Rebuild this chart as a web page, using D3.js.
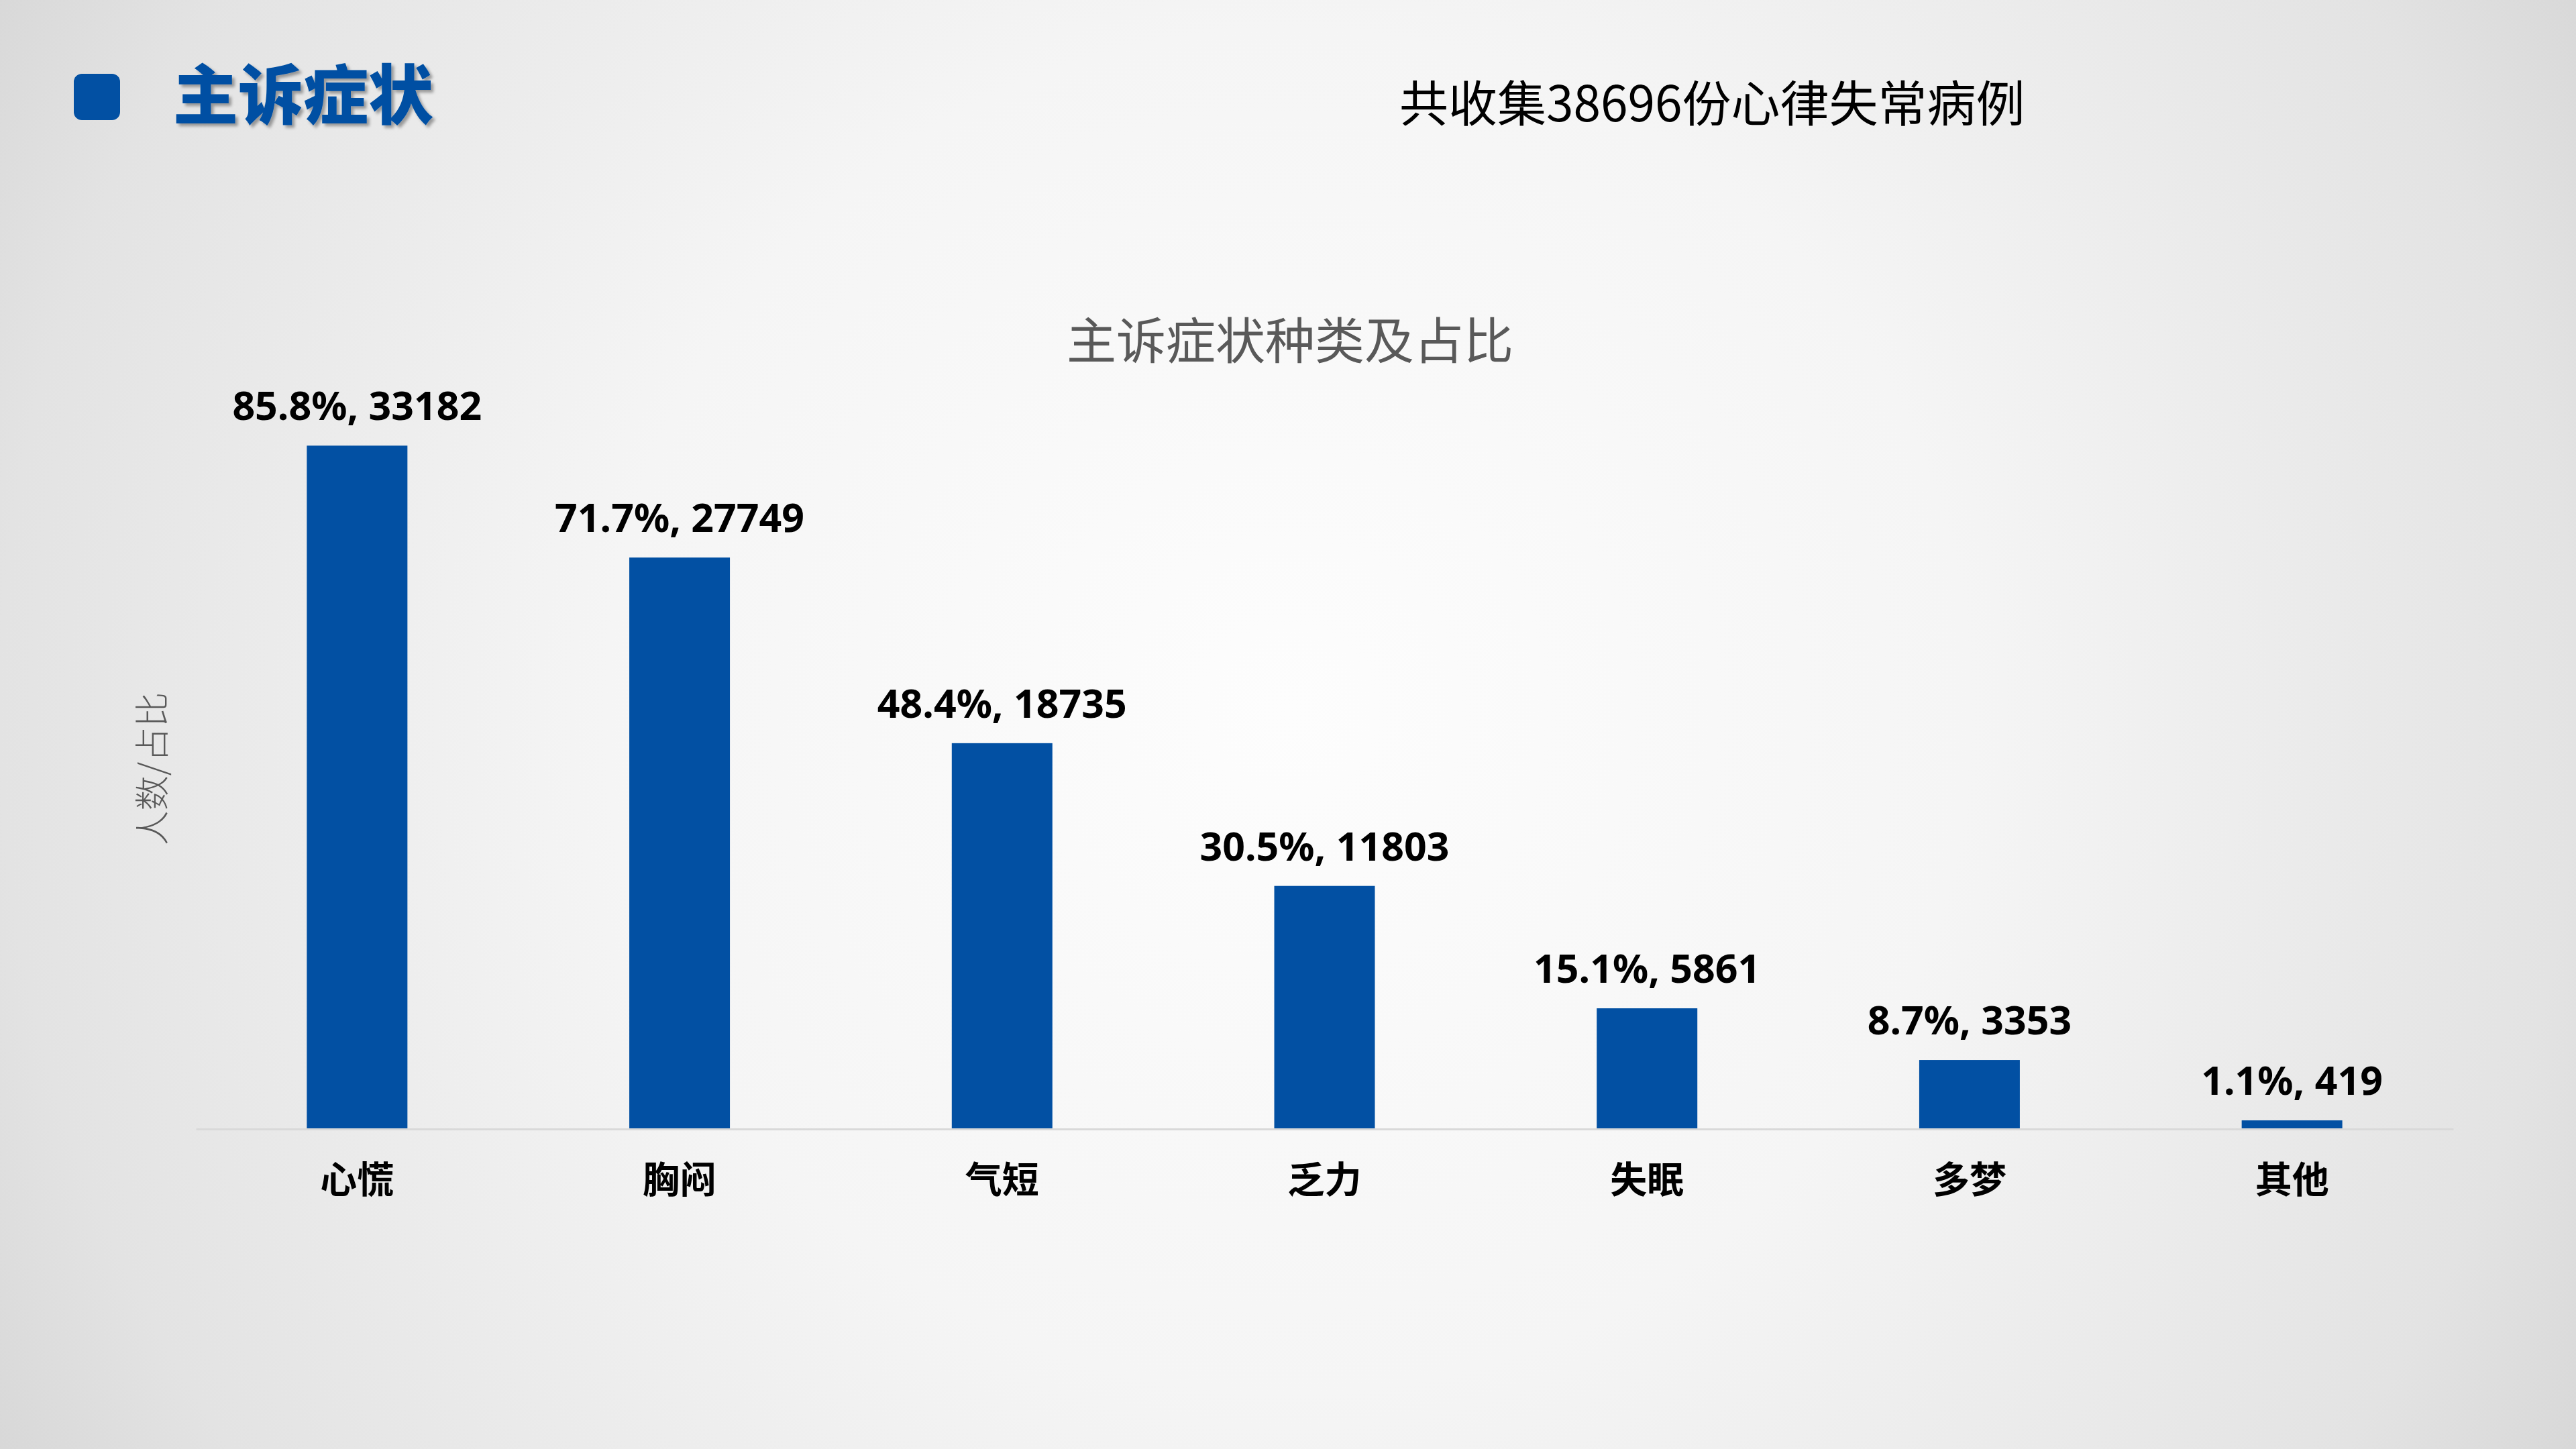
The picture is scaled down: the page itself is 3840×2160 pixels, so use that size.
<!DOCTYPE html>
<html>
<head>
<meta charset="utf-8">
<script src="https://cdn.jsdelivr.net/npm/d3@7"></script>
<style>
  html, body { margin: 0; padding: 0; overflow: hidden; }
  svg { display: block; }
</style>
</head>
<body>
<script>
  // chart values
  let categories = ["心慌", "胸闷", "气短", "乏力", "失眠", "多梦", "其他"];
  let counts = [33182, 27749, 18735, 11803, 5861, 3353, 419];
  let percents = [85.8, 71.7, 48.4, 30.5, 15.1, 8.7, 1.1];

  let canvasW = 3840;
  let canvasH = 2160;
  let barColor = "#0250a3";
  let cjk = "'Noto Sans CJK SC', 'Microsoft YaHei', sans-serif";

  let svg = d3.select("body").append("svg")
    .attr("width", canvasW)
    .attr("height", canvasH);

  let defs = svg.append("defs");

  let bg = defs.append("radialGradient")
    .attr("id", "bg")
    .attr("gradientUnits", "userSpaceOnUse")
    .attr("cx", 1920).attr("cy", 1060).attr("r", 2260);
  bg.append("stop").attr("offset", 0).attr("stop-color", "#fdfdfd");
  bg.append("stop").attr("offset", 0.45).attr("stop-color", "#f5f5f5");
  bg.append("stop").attr("offset", 0.85).attr("stop-color", "#e3e3e3");
  bg.append("stop").attr("offset", 1).attr("stop-color", "#d6d6d6");

  let shadow = defs.append("filter").attr("id", "shadow")
    .attr("x", "-10%").attr("y", "-20%").attr("width", "130%").attr("height", "150%");
  shadow.append("feDropShadow")
    .attr("dx", 4).attr("dy", 4).attr("stdDeviation", 2)
    .attr("flood-color", "#000").attr("flood-opacity", 0.35);

  svg.append("rect")
    .attr("width", canvasW).attr("height", canvasH)
    .attr("fill", "url(#bg)");

  // header
  svg.append("rect")
    .attr("x", 110).attr("y", 110)
    .attr("width", 69).attr("height", 69)
    .attr("rx", 12)
    .attr("fill", barColor);

  svg.append("text")
    .attr("x", 258).attr("y", 177)
    .attr("font-family", cjk)
    .attr("font-weight", 900)
    .attr("font-size", "97px")
    .attr("fill", barColor)
    .attr("filter", "url(#shadow)")
    .text("主诉症状");

  svg.append("text")
    .attr("x", 2086).attr("y", 181)
    .attr("font-family", cjk)
    .attr("font-weight", 400)
    .attr("font-size", "73px")
    .attr("fill", "#000")
    .text("共收集38696份心律失常病例");

  // chart title
  svg.append("text")
    .attr("x", 1923).attr("y", 535)
    .attr("text-anchor", "middle")
    .attr("font-family", cjk)
    .attr("font-size", "74px")
    .attr("fill", "#595959")
    .text("主诉症状种类及占比");

  // scales
  let x = d3.scaleBand()
    .domain(categories)
    .range([292, 3657])
    .paddingInner(0.688)
    .paddingOuter(0.344);

  let y = d3.scaleLinear()
    .domain([0, 40000])
    .range([1683, 455]);

  let data = categories.map((c, i) => ({ name: c, count: counts[i], pct: percents[i] }));

  svg.selectAll("rect.bar")
    .data(data)
    .join("rect")
    .attr("class", "bar")
    .attr("x", d => x(d.name))
    .attr("y", d => y(d.count))
    .attr("width", x.bandwidth())
    .attr("height", d => y(0) - y(d.count))
    .attr("fill", barColor);

  svg.selectAll("text.lbl")
    .data(data)
    .join("text")
    .attr("class", "lbl")
    .attr("x", d => x(d.name) + x.bandwidth() / 2)
    .attr("y", d => y(d.count) - 38)
    .attr("text-anchor", "middle")
    .attr("font-family", "'Noto Sans', 'Open Sans', sans-serif")
    .attr("font-weight", 700)
    .attr("font-size", "59px")
    .attr("fill", "#000")
    .text(d => d.pct.toFixed(1) + "%, " + d.count);

  // x axis
  let xAxis = svg.append("g")
    .attr("transform", "translate(0," + y(0) + ")")
    .call(d3.axisBottom(x).tickSize(0).tickSizeOuter(0).tickPadding(56));

  xAxis.select(".domain")
    .attr("stroke", "#d9d9d9")
    .attr("stroke-width", 3);

  xAxis.selectAll(".tick text")
    .attr("font-family", cjk)
    .attr("font-weight", 700)
    .attr("font-size", "55px")
    .attr("fill", "#000");

  // y axis title
  svg.append("text")
    .attr("transform", "translate(246,1146) rotate(-90)")
    .attr("text-anchor", "middle")
    .attr("font-family", cjk)
    .attr("font-weight", 300)
    .attr("font-size", "52px")
    .attr("fill", "#595959")
    .text("人数/占比");
</script>
</body>
</html>
